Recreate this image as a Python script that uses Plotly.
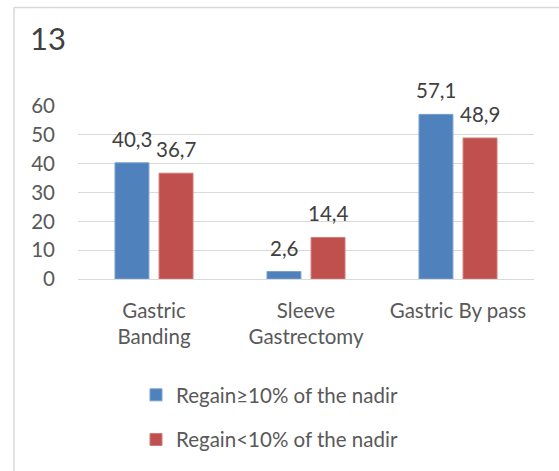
import plotly.graph_objects as go

# Chart data
categories = ["Gastric<br>Banding", "Sleeve<br>Gastrectomy", "Gastric By pass"]
regain_ge10 = [40.3, 2.6, 57.1]
regain_lt10 = [36.7, 14.4, 48.9]
series_names = ["Regain≥10% of the nadir", "Regain<10% of the nadir"]
chart_title = "13"

FONT = "Lato, 'Open Sans', sans-serif"
FS = 20.5
W, H = 559, 471
L, R, T, B = 78, 25, 106, 191  # plot area margins in px

def px_x(px):
    return (px - L) / (W - L - R)

def px_y(py):
    return (H - B - py) / (H - T - B)

fig = go.Figure()
colors = ["#4f81bd", "#c0504d"]
edges = ["#7a9fd0", "#d27a78"]
for i, (name, vals) in enumerate(zip(series_names, [regain_ge10, regain_lt10])):
    fig.add_trace(go.Bar(
        x=categories, y=vals, name=name,
        marker=dict(color=colors[i], line=dict(color=edges[i], width=1)),
        legendgroup=f"g{i}",
    ))
    # value labels floated above each bar
    shift = -22 if i == 0 else 22
    for c, v in zip(categories, vals):
        fig.add_annotation(x=c, y=v, xshift=shift, yshift=10,
                           text=f"{v:.1f}".replace(".", ","),
                           xanchor="center", yanchor="bottom", showarrow=False,
                           font=dict(family=FONT, size=FS, color="#404040"))

# Outer frame lines (top and left)
fig.add_shape(type="line", xref="paper", yref="paper",
              x0=px_x(14), x1=px_x(W + 5), y0=px_y(7), y1=px_y(7),
              line=dict(color="#d9d9d9", width=1.5))
fig.add_shape(type="line", xref="paper", yref="paper",
              x0=px_x(14), x1=px_x(14), y0=px_y(7), y1=px_y(H + 5),
              line=dict(color="#d9d9d9", width=1.5))

fig.add_annotation(text=chart_title, xref="paper", yref="paper",
                   x=px_x(28), y=px_y(38), xanchor="left", yanchor="middle",
                   showarrow=False, font=dict(family=FONT, size=31, color="#404040"))

fig.update_layout(
    width=W, height=H,
    margin=dict(l=L, r=R, t=T, b=B),
    paper_bgcolor="white", plot_bgcolor="white",
    separators=",.",
    barmode="group", bargap=0.42, bargroupgap=0.23,
    font=dict(family=FONT, color="#595959"),
    showlegend=True,
    legend=dict(orientation="v", x=px_x(136), y=px_y(375),
                xanchor="left", yanchor="top",
                font=dict(family=FONT, size=FS, color="#595959"),
                tracegroupgap=15, bgcolor="rgba(0,0,0,0)"),
    xaxis=dict(tickfont=dict(family=FONT, size=FS, color="#595959"),
               showgrid=False, showline=False, ticks="", ticklabelstandoff=17),
    yaxis=dict(range=[0, 60], tickvals=[0, 10, 20, 30, 40, 50, 60],
               tickfont=dict(family=FONT, size=FS, color="#595959"),
               showgrid=True, gridcolor="#d9d9d9", gridwidth=1.3,
               zeroline=True, zerolinecolor="#d9d9d9", zerolinewidth=1.3,
               showline=False, ticks="", ticklabelstandoff=22),
)

fig.write_html("out.html")
